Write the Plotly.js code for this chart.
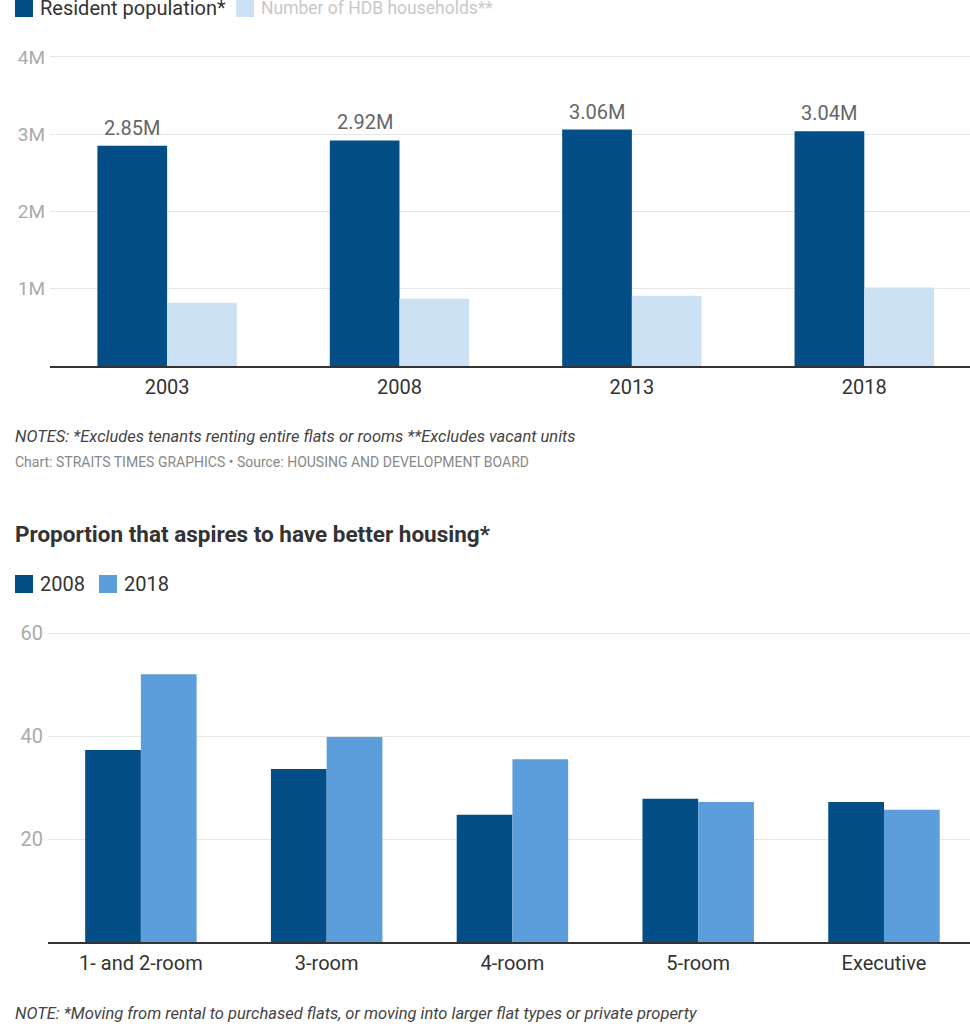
<!DOCTYPE html>
<html>
<head>
<meta charset="utf-8">
<script src="https://cdn.plot.ly/plotly-3.0.1.min.js"></script>
<style>html,body{margin:0;padding:0;background:#fff;}#chart{width:970px;height:1026px;}</style>
</head>
<body>
<div id="chart"></div>
<script>
// ---- data ----
const years = ['2003', '2008', '2013', '2018'];
const residentPop = [2.85, 2.92, 3.06, 3.04];          // millions
const residentLabels = ['2.85M', '2.92M', '3.06M', '3.04M'];
const hdbHouseholds = [0.82, 0.87, 0.91, 1.015];        // millions
const popTickVals = [1, 2, 3, 4];
const popTickText = ['1M', '2M', '3M', '4M'];

const flatTypes = ['1- and 2-room', '3-room', '4-room', '5-room', 'Executive'];
const aspire2008 = [37.3, 33.6, 24.7, 27.8, 27.2];
const aspire2018 = [52.0, 39.8, 35.5, 27.2, 25.7];
const aspireTickVals = [20, 40, 60];

// ---- layout helpers ----
const W = 970, H = 1026;
const px = v => v / W;
const py = v => 1 - v / H;
const FONT = 'Roboto, "Open Sans", sans-serif';
const DARK = '#034e87';
const LIGHT_TOP = '#cde1f4';
const LIGHT_BOT = '#5b9edb';

const traces = [
  { type: 'bar', x: years, y: residentPop, xaxis: 'x', yaxis: 'y', name: 'Resident population*',
    marker: { color: DARK }, hoverinfo: 'skip' },
  { type: 'bar', x: years, y: hdbHouseholds, xaxis: 'x', yaxis: 'y', name: 'Number of HDB households**',
    marker: { color: LIGHT_TOP }, hoverinfo: 'skip' },
  { type: 'bar', x: flatTypes, y: aspire2008, xaxis: 'x2', yaxis: 'y2', name: '2008',
    marker: { color: DARK }, hoverinfo: 'skip' },
  { type: 'bar', x: flatTypes, y: aspire2018, xaxis: 'x2', yaxis: 'y2', name: '2018',
    marker: { color: LIGHT_BOT }, hoverinfo: 'skip' }
];

function note(text, x, y, size, color, extra) {
  return Object.assign({ text: text, xref: 'paper', yref: 'paper', x: px(x), y: py(y),
    xanchor: 'left', yanchor: 'middle', showarrow: false,
    font: { family: FONT, size: size, color: color } }, extra || {});
}
function square(x, y, color) {
  return { type: 'rect', xref: 'paper', yref: 'paper', x0: px(x), x1: px(x + 18),
    y0: py(y + 18), y1: py(y), fillcolor: color, line: { width: 0 } };
}

// value labels above the resident-population bars (category index on x, value on y)
const valueLabels = years.map((yr, i) => ({
  text: residentLabels[i], xref: 'x', yref: 'y', x: i, y: residentPop[i],
  xshift: -34.9, yshift: 18, xanchor: 'center', yanchor: 'middle', showarrow: false,
  font: { family: FONT, size: 20, color: '#666' }
}));

const layout = {
  width: W, height: H,
  margin: { l: 0, r: 0, t: 0, b: 0 },
  paper_bgcolor: '#fff', plot_bgcolor: '#fff',
  showlegend: false,
  barmode: 'group', bargap: 0.4, bargroupgap: 0,
  font: { family: FONT },
  xaxis: { domain: [px(50), 1], range: [-0.504, 3.455], type: 'category', anchor: 'y',
    showline: true, linecolor: '#333', linewidth: 2, ticks: '', showgrid: false, ticklabelstandoff: 2,
    tickfont: { family: FONT, size: 20, color: '#333' }, fixedrange: true },
  yaxis: { domain: [py(366), py(53.1)], range: [0, 4.05], anchor: 'x',
    tickvals: popTickVals, ticktext: popTickText, showgrid: true, gridcolor: '#e6e6e6', gridwidth: 1,
    zeroline: false, ticks: '', ticklabelstandoff: 4,
    tickfont: { family: FONT, size: 19, color: '#aaa' }, fixedrange: true },
  xaxis2: { domain: [px(48), 1], range: [-0.5, 4.463], type: 'category', anchor: 'y2',
    showline: true, linecolor: '#333', linewidth: 2, ticks: '', showgrid: false, ticklabelstandoff: 2,
    tickfont: { family: FONT, size: 20, color: '#333' }, fixedrange: true },
  yaxis2: { domain: [py(942), py(627.9)], range: [0, 61], anchor: 'x2',
    tickvals: aspireTickVals, showgrid: true, gridcolor: '#e6e6e6', gridwidth: 1,
    zeroline: false, ticks: '', ticklabelstandoff: 4,
    tickfont: { family: FONT, size: 20, color: '#aaa' }, fixedrange: true },
  shapes: [
    square(15, -1, DARK),
    square(236, -1, LIGHT_TOP),
    square(15, 575, DARK),
    square(99, 575, LIGHT_BOT)
  ],
  annotations: valueLabels.concat([
    note('Resident population*', 38, 8, 20, '#333'),
    note('Number of HDB households**', 259, 8, 17.5, '#c8c8c8'),
    note('<i>NOTES: *Excludes tenants renting entire flats or rooms **Excludes vacant units</i>', 13, 436, 16.5, '#444'),
    note('Chart: STRAITS TIMES GRAPHICS • Source: HOUSING AND DEVELOPMENT BOARD', 13, 462, 14, '#888'),
    note('<b>Proportion that aspires to have better housing*</b>', 13, 534, 22.5, '#333'),
    note('2008', 38, 584, 20, '#333'),
    note('2018', 122, 584, 20, '#333'),
    note('<i>NOTE: *Moving from rental to purchased flats, or moving into larger flat types or private property</i>', 13, 1013, 16.5, '#444')
  ])
};

Plotly.newPlot('chart', traces, layout, { displayModeBar: false, staticPlot: true });
</script>
</body>
</html>
